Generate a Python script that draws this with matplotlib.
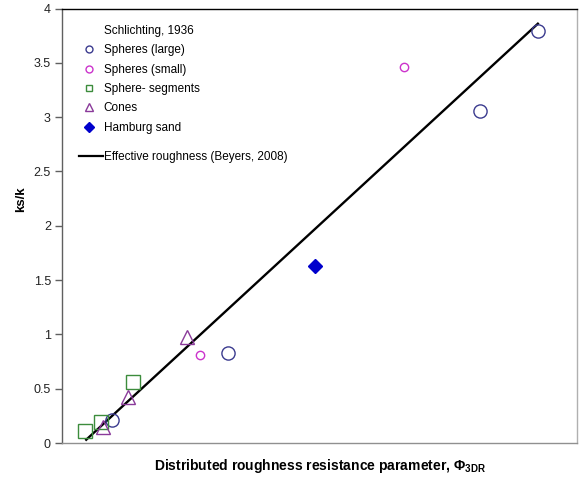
import matplotlib
matplotlib.use("Agg")
import matplotlib.pyplot as plt
from matplotlib.lines import Line2D

plt.rcParams['font.family'] = ['Liberation Sans', 'DejaVu Sans']

# Schlichting (1936) roughness elements: (phi_3DR, ks/k)
spheres_large_x = [0.097, 0.322, 0.812, 0.924]
spheres_large_y = [0.21, 0.83, 3.06, 3.79]
spheres_small_x = [0.268, 0.664]
spheres_small_y = [0.81, 3.46]
segments_x = [0.045, 0.076, 0.138]
segments_y = [0.11, 0.19, 0.56]
cones_x = [0.080, 0.128, 0.243]
cones_y = [0.15, 0.42, 0.98]
sand_x = [0.491]
sand_y = [1.63]

# effective roughness line (Beyers, 2008)
eff_x = [0.047, 0.924]
eff_y = [0.03, 3.86]

c_large = '#3b3b8f'
c_small = '#cc33cc'
c_seg = '#3c8c3c'
c_cone = '#8a3a9a'
c_sand = '#0000cc'

fig = plt.figure(figsize=(5.79, 4.79), dpi=100)
ax = fig.add_axes([62 / 579, 36 / 479, 515 / 579, 434.5 / 479])

ax.plot(eff_x, eff_y, color='black', lw=1.7, zorder=2)
ax.plot(spheres_large_x, spheres_large_y, 'o', ms=9.5, mfc='none', mec=c_large, mew=1.0, zorder=3)
ax.plot(spheres_small_x, spheres_small_y, 'o', ms=6, mfc='none', mec=c_small, mew=1.0, zorder=3)
ax.plot(segments_x, segments_y, 's', ms=9.5, mfc='none', mec=c_seg, mew=1.0, zorder=3)
ax.plot(cones_x, cones_y, '^', ms=10.5, mfc='none', mec=c_cone, mew=1.0, zorder=3)
ax.plot(sand_x, sand_y, 'D', ms=7, mfc=c_sand, mec=c_sand, zorder=3)

ax.set_xlim(0, 1)
ax.set_ylim(0, 4)
ax.set_yticks([0, 0.5, 1, 1.5, 2, 2.5, 3, 3.5, 4])
ax.set_yticklabels(['0', '0.5', '1', '1.5', '2', '2.5', '3', '3.5', '4'])
ax.set_xticks([])
ax.tick_params(axis='y', direction='out', length=5, width=1, color='#606060',
               labelsize=9, labelcolor='#222222', pad=3)

ax.spines['left'].set_color('#606060')
ax.spines['bottom'].set_color('#909090')
ax.spines['right'].set_color('#b0b0b0')
ax.spines['top'].set_color('black')
for s in ax.spines.values():
    s.set_linewidth(1.0)

ax.set_ylabel('ks/k', fontsize=9.5, fontweight='bold')
ax.yaxis.set_label_coords(-0.068, 0.56)
ax.set_xlabel(r'Distributed roughness resistance parameter, Φ$_{\mathregular{3DR}}$',
              fontsize=10, fontweight='bold', labelpad=10)

# legend entries use smaller markers than the data
handles = [
    Line2D([], [], linestyle='none'),
    Line2D([], [], marker='o', ls='none', ms=5, mfc='none', mec=c_large),
    Line2D([], [], marker='o', ls='none', ms=5, mfc='none', mec=c_small),
    Line2D([], [], marker='s', ls='none', ms=5, mfc='none', mec=c_seg),
    Line2D([], [], marker='^', ls='none', ms=6, mfc='none', mec=c_cone),
    Line2D([], [], marker='D', ls='none', ms=5, mfc=c_sand, mec=c_sand),
]
labels = ['Schlichting, 1936', 'Spheres (large)', 'Spheres (small)',
          'Sphere- segments', 'Cones', 'Hamburg sand']
leg1 = ax.legend(handles, labels, loc='upper left', bbox_to_anchor=(0.021, 0.978),
                 frameon=False, fontsize=8.5, handlelength=1.5, handletextpad=0.5,
                 labelspacing=0.62, borderaxespad=0.2)
ax.add_artist(leg1)

line_handle = [Line2D([], [], color='black', lw=1.6)]
ax.legend(line_handle, ['Effective roughness (Beyers, 2008)'], loc='upper left',
          bbox_to_anchor=(0.02, 0.688), frameon=False, fontsize=8.5,
          handlelength=2.0, handletextpad=0.1, borderaxespad=0.2)

fig.savefig('out.png', dpi=100)
